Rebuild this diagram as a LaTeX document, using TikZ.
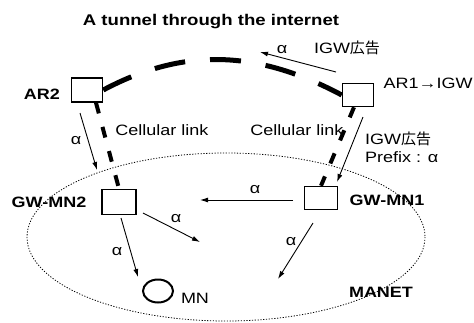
\documentclass[tikz,border=0pt]{standalone}
\usepackage{fontspec}
\setmainfont{Liberation Sans}[FakeStretch=1.2]
\newfontfamily\jpfont{Noto Sans CJK JP}
\usetikzlibrary{arrows.meta,shapes.geometric,calc}

\begin{document}
\begin{tikzpicture}[x=1pt,y=-1pt,font=\fontsize{15}{17}\selectfont,
  box/.style={draw,line width=1.5pt,minimum width=31pt,minimum height=23pt,inner sep=0pt},
  lbl/.style={anchor=base,inner sep=0pt},
  heavy/.style={lbl,font=\fontsize{15}{17}\selectfont\bfseries},
  tunnel/.style={line width=5pt,dash pattern=on 31pt off 25pt},
  cell/.style={line width=4pt,dash pattern=on 11pt off 14pt},
  msg/.style={-{Latex[length=8pt,width=5pt]},line width=0.9pt}]
  \useasboundingbox (0,0) rectangle (474,322);

  % MANET area
  \draw[line width=0.8pt,dash pattern=on 1.2pt off 1.6pt] (226,237) ellipse [x radius=199, y radius=84];

  % routers and gateways
  \node[box,minimum height=24pt] (ar2) at (87,90) {};
  \node[box] (ar1) at (358,95) {};
  \node[box,minimum width=34pt,minimum height=25pt] (gw2) at (119,202) {};
  \node[box,minimum width=33pt] (gw1) at (321,198) {};
  \node[draw,ellipse,line width=2pt,minimum width=30pt,minimum height=23pt,inner sep=0pt] (mn) at (158,291) {};

  % tunnel and cellular links
  \draw[tunnel] (ar2.east) to[out=28,in=152] (ar1.west);
  \draw[cell] ($(ar2.south)+(9,0)$) -- (gw2.north);
  \draw[cell] ($(ar1.south)+(-4,0)$) -- (gw1.north);

  % advertisements
  \coordinate (t1) at (336,72);  \coordinate (t2) at (260,52);
  \coordinate (l1) at (80,113);  \coordinate (l2) at (97,170);
  \coordinate (r1) at (363,117); \coordinate (r2) at (337,182);
  \coordinate (m1) at (293,200); \coordinate (m2) at (200,200);
  \coordinate (p1) at (143,213); \coordinate (p2) at (200,242);
  \coordinate (q1) at (121,218); \coordinate (q2) at (138,277);
  \coordinate (s1) at (313,223); \coordinate (s2) at (278,279);
  \foreach \a/\b in {t1/t2,l1/l2,r1/r2,m1/m2,p1/p2,q1/q2,s1/s2}
    \draw[msg] (\a) -- (\b);

  % labels
  \node[lbl,font=\fontsize{15.5}{17}\selectfont\bfseries] (title) at (211,25) {A tunnel through the internet};
  \node[heavy] (ar2l) at (42,99) {AR2};
  \node[lbl] (ar1l) at (428,88) {AR1→IGW};
  \node[lbl] (cl2) at (162,135) {Cellular link};
  \node[lbl] (cl1) at (297,135) {Cellular link};
  \node[lbl] (adtop) at (347,53) {IGW{\jpfont 広告}};
  \node[lbl,anchor=base west] (adr) at (365,144) {IGW{\jpfont 広告}};
  \node[lbl,anchor=base west] (pfx) at (365,162) {Prefix : α};
  \node[heavy] (gw2l) at (49,207) {GW-MN2};
  \node[heavy] (gw1l) at (387,205) {GW-MN1};
  \node[heavy] (manet) at (381,297) {MANET};
  \node[lbl] (mnl) at (195,303) {MN};
  \foreach \p in {(282,53),(76,144),(255,193),(176,222),(117,255),(291,245)}
    \node[lbl] at \p {α};
\end{tikzpicture}
\end{document}
